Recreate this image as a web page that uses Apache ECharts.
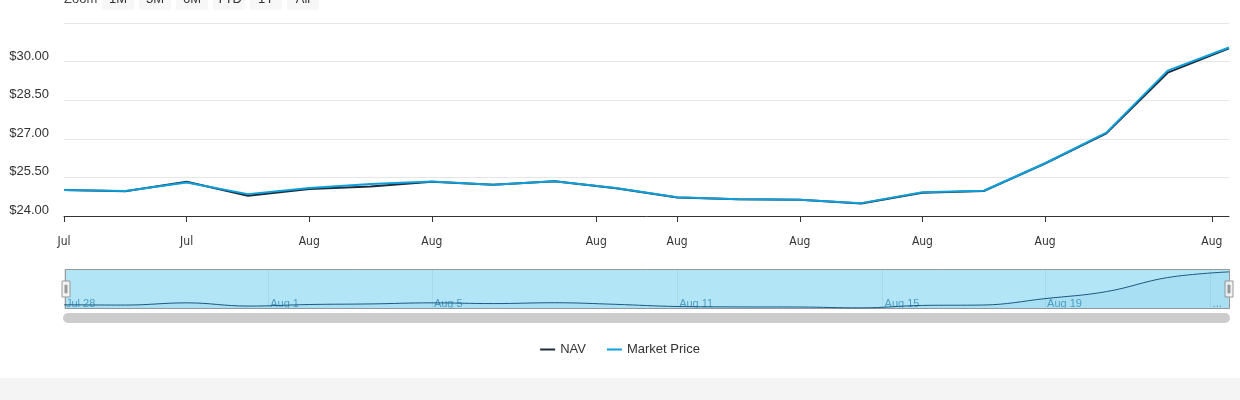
<!DOCTYPE html>
<html>
<head>
<meta charset="utf-8">
<script src="https://cdn.jsdelivr.net/npm/echarts@6/dist/echarts.min.js"></script>
<style>
html, body { margin: 0; padding: 0; background: #fff; }
#chart { width: 1240px; height: 378px; }
#foot { width: 1240px; height: 22px; background: #f4f4f4; }
</style>
</head>
<body>
<div id="chart"></div>
<div id="foot"></div>
<script>
// trading days shown in the chart
var dates = ['2025-07-28', '2025-07-29', '2025-07-30', '2025-07-31', '2025-08-01',
             '2025-08-04', '2025-08-05', '2025-08-06', '2025-08-07', '2025-08-08',
             '2025-08-11', '2025-08-12', '2025-08-13', '2025-08-14', '2025-08-15',
             '2025-08-18', '2025-08-19', '2025-08-20', '2025-08-21', '2025-08-22'];
var nav = [25.01, 24.96, 25.33, 24.79, 25.05, 25.15, 25.33, 25.21, 25.35, 25.08,
           24.72, 24.65, 24.63, 24.49, 24.90, 24.97, 26.04, 27.21, 29.57, 30.52];
var marketPrice = [25.01, 24.97, 25.30, 24.85, 25.09, 25.24, 25.34, 25.21, 25.35, 25.09,
                   24.73, 24.65, 24.63, 24.50, 24.92, 24.98, 26.05, 27.24, 29.65, 30.55];

// x axis ticks (in day-index units) and their labels
var tickPos = [0, 2, 4, 6, 8.68, 10, 12, 14, 16, 18.72];
var tickLabels = ['Jul', 'Jul', 'Aug', 'Aug', 'Aug', 'Aug', 'Aug', 'Aug', 'Aug', 'Aug'];
// navigator labels
var navTickPos = [0, 3.33, 6, 10, 13.35, 16, 18.7];
var navTickLabels = ['Jul 28', 'Aug 1', 'Aug 5', 'Aug 11', 'Aug 15', 'Aug 19', '...'];
var zoomButtons = ['1M', '3M', '6M', 'YTD', '1Y', 'All'];

function pairs(arr) {
  return arr.map(function (v, i) { return [i, v]; });
}
function labelFor(pos, labels) {
  return function (val) {
    for (var i = 0; i < pos.length; i++) {
      if (Math.abs(pos[i] - val) < 1e-6) return labels[i];
    }
    return '';
  };
}

var chart = echarts.init(document.getElementById('chart'));

var graphics = [{
  type: 'text', x: 64, y: -1,
  style: { text: 'Zoom', fontSize: 13, fill: '#444', verticalAlign: 'middle', fontFamily: 'Liberation Sans, Arial, sans-serif' }
}];
zoomButtons.forEach(function (b, i) {
  graphics.push({
    type: 'group', x: 102 + i * 37, y: -12,
    children: [
      { type: 'rect', shape: { x: 0, y: 0, width: 32, height: 22, r: 2 }, style: { fill: '#f7f7f7' } },
      { type: 'text', style: { text: b, x: 16, y: 11, align: 'center', verticalAlign: 'middle', fontSize: 13, fill: '#333', fontFamily: 'Liberation Sans, Arial, sans-serif' } }
    ]
  });
});
// scrollbar under the navigator
graphics.push({
  type: 'rect', shape: { x: 63, y: 313, width: 1167, height: 10, r: 5 }, style: { fill: '#cccccc' }
});

option = {
  animation: false,
  textStyle: { fontFamily: 'Liberation Sans, Arial, sans-serif' },
  grid: [
    { left: 64, right: 11, top: 23, height: 193 },
    { left: 64, right: 11, top: 269, height: 40 }
  ],
  xAxis: [{
    type: 'value', gridIndex: 0, min: 0, max: dates.length - 1,
    axisLine: { show: true, lineStyle: { color: '#333', width: 1 } },
    axisTick: { show: true, length: 6, customValues: tickPos, lineStyle: { color: '#333' } },
    axisLabel: {
      customValues: tickPos, formatter: labelFor(tickPos, tickLabels),
      margin: 20, fontSize: 12, color: '#333',
      fontFamily: 'Liberation Sans Narrow, DejaVu Sans Condensed, sans-serif'
    },
    splitLine: { show: false }
  }, {
    type: 'value', gridIndex: 1, min: 0, max: dates.length - 1,
    axisLine: { show: false },
    axisTick: { show: false, customValues: navTickPos },
    axisLabel: {
      customValues: navTickPos, formatter: labelFor(navTickPos, navTickLabels),
      inside: true, margin: 5, align: 'left', verticalAlign: 'middle',
      padding: [0, 0, 0, 2], fontSize: 11, color: '#3c6f99'
    },
    splitLine: { show: true, lineStyle: { color: '#e6e6e6' } }
  }],
  yAxis: [{
    type: 'value', gridIndex: 0, min: 24, max: 31.5, interval: 1.5,
    axisLine: { show: false }, axisTick: { show: false },
    axisLabel: {
      formatter: function (v) { return '$' + v.toFixed(2); },
      showMaxLabel: false, margin: 15, fontSize: 13, color: '#333',
      verticalAlign: 'bottom', lineHeight: 11
    },
    splitLine: { lineStyle: { color: '#e6e6e6' } }
  }, {
    type: 'value', gridIndex: 1, min: 24.3, max: 31,
    axisLine: { show: false }, axisTick: { show: false },
    axisLabel: { show: false }, splitLine: { show: false }
  }],
  dataZoom: [{
    type: 'slider', xAxisIndex: 0, start: 0, end: 100,
    left: 64, right: 11, top: 269, height: 40,
    showDataShadow: false, showDetail: false, brushSelect: false,
    moveHandleSize: 0,
    backgroundColor: 'rgba(0,0,0,0)',
    borderColor: '#999', borderRadius: 0,
    fillerColor: 'rgba(102,204,238,0.5)',
    handleIcon: 'path://M0,0H8V16H0Z M3,4V12H3.6V4Z M4.4,4V12H5V4Z',
    handleSize: 16,
    handleStyle: { color: '#f2f2f2', borderColor: '#999', borderWidth: 1 }
  }],
  legend: {
    top: 338, left: 'center', icon: 'rect', itemWidth: 15, itemHeight: 2, itemGap: 21,
    textStyle: { fontSize: 13, color: '#333' },
    data: ['NAV', 'Market Price']
  },
  graphic: graphics,
  series: [{
    name: 'NAV', type: 'line', xAxisIndex: 0, yAxisIndex: 0,
    data: pairs(nav), showSymbol: false, symbol: 'none',
    lineStyle: { color: '#1d2b3a', width: 2 }, itemStyle: { color: '#1d2b3a' }
  }, {
    name: 'Market Price', type: 'line', xAxisIndex: 0, yAxisIndex: 0,
    data: pairs(marketPrice), showSymbol: false, symbol: 'none',
    lineStyle: { color: '#0fa0db', width: 2 }, itemStyle: { color: '#0fa0db' }
  }, {
    name: 'navigator', type: 'line', xAxisIndex: 1, yAxisIndex: 1, z: 5,
    data: pairs(nav), showSymbol: false, symbol: 'none', smooth: 0.4,
    lineStyle: { color: '#1b5a80', width: 1 },
    areaStyle: { color: 'rgba(0,110,170,0.07)' },
    silent: true
  }]
};

option && chart.setOption(option);
</script>
</body>
</html>
